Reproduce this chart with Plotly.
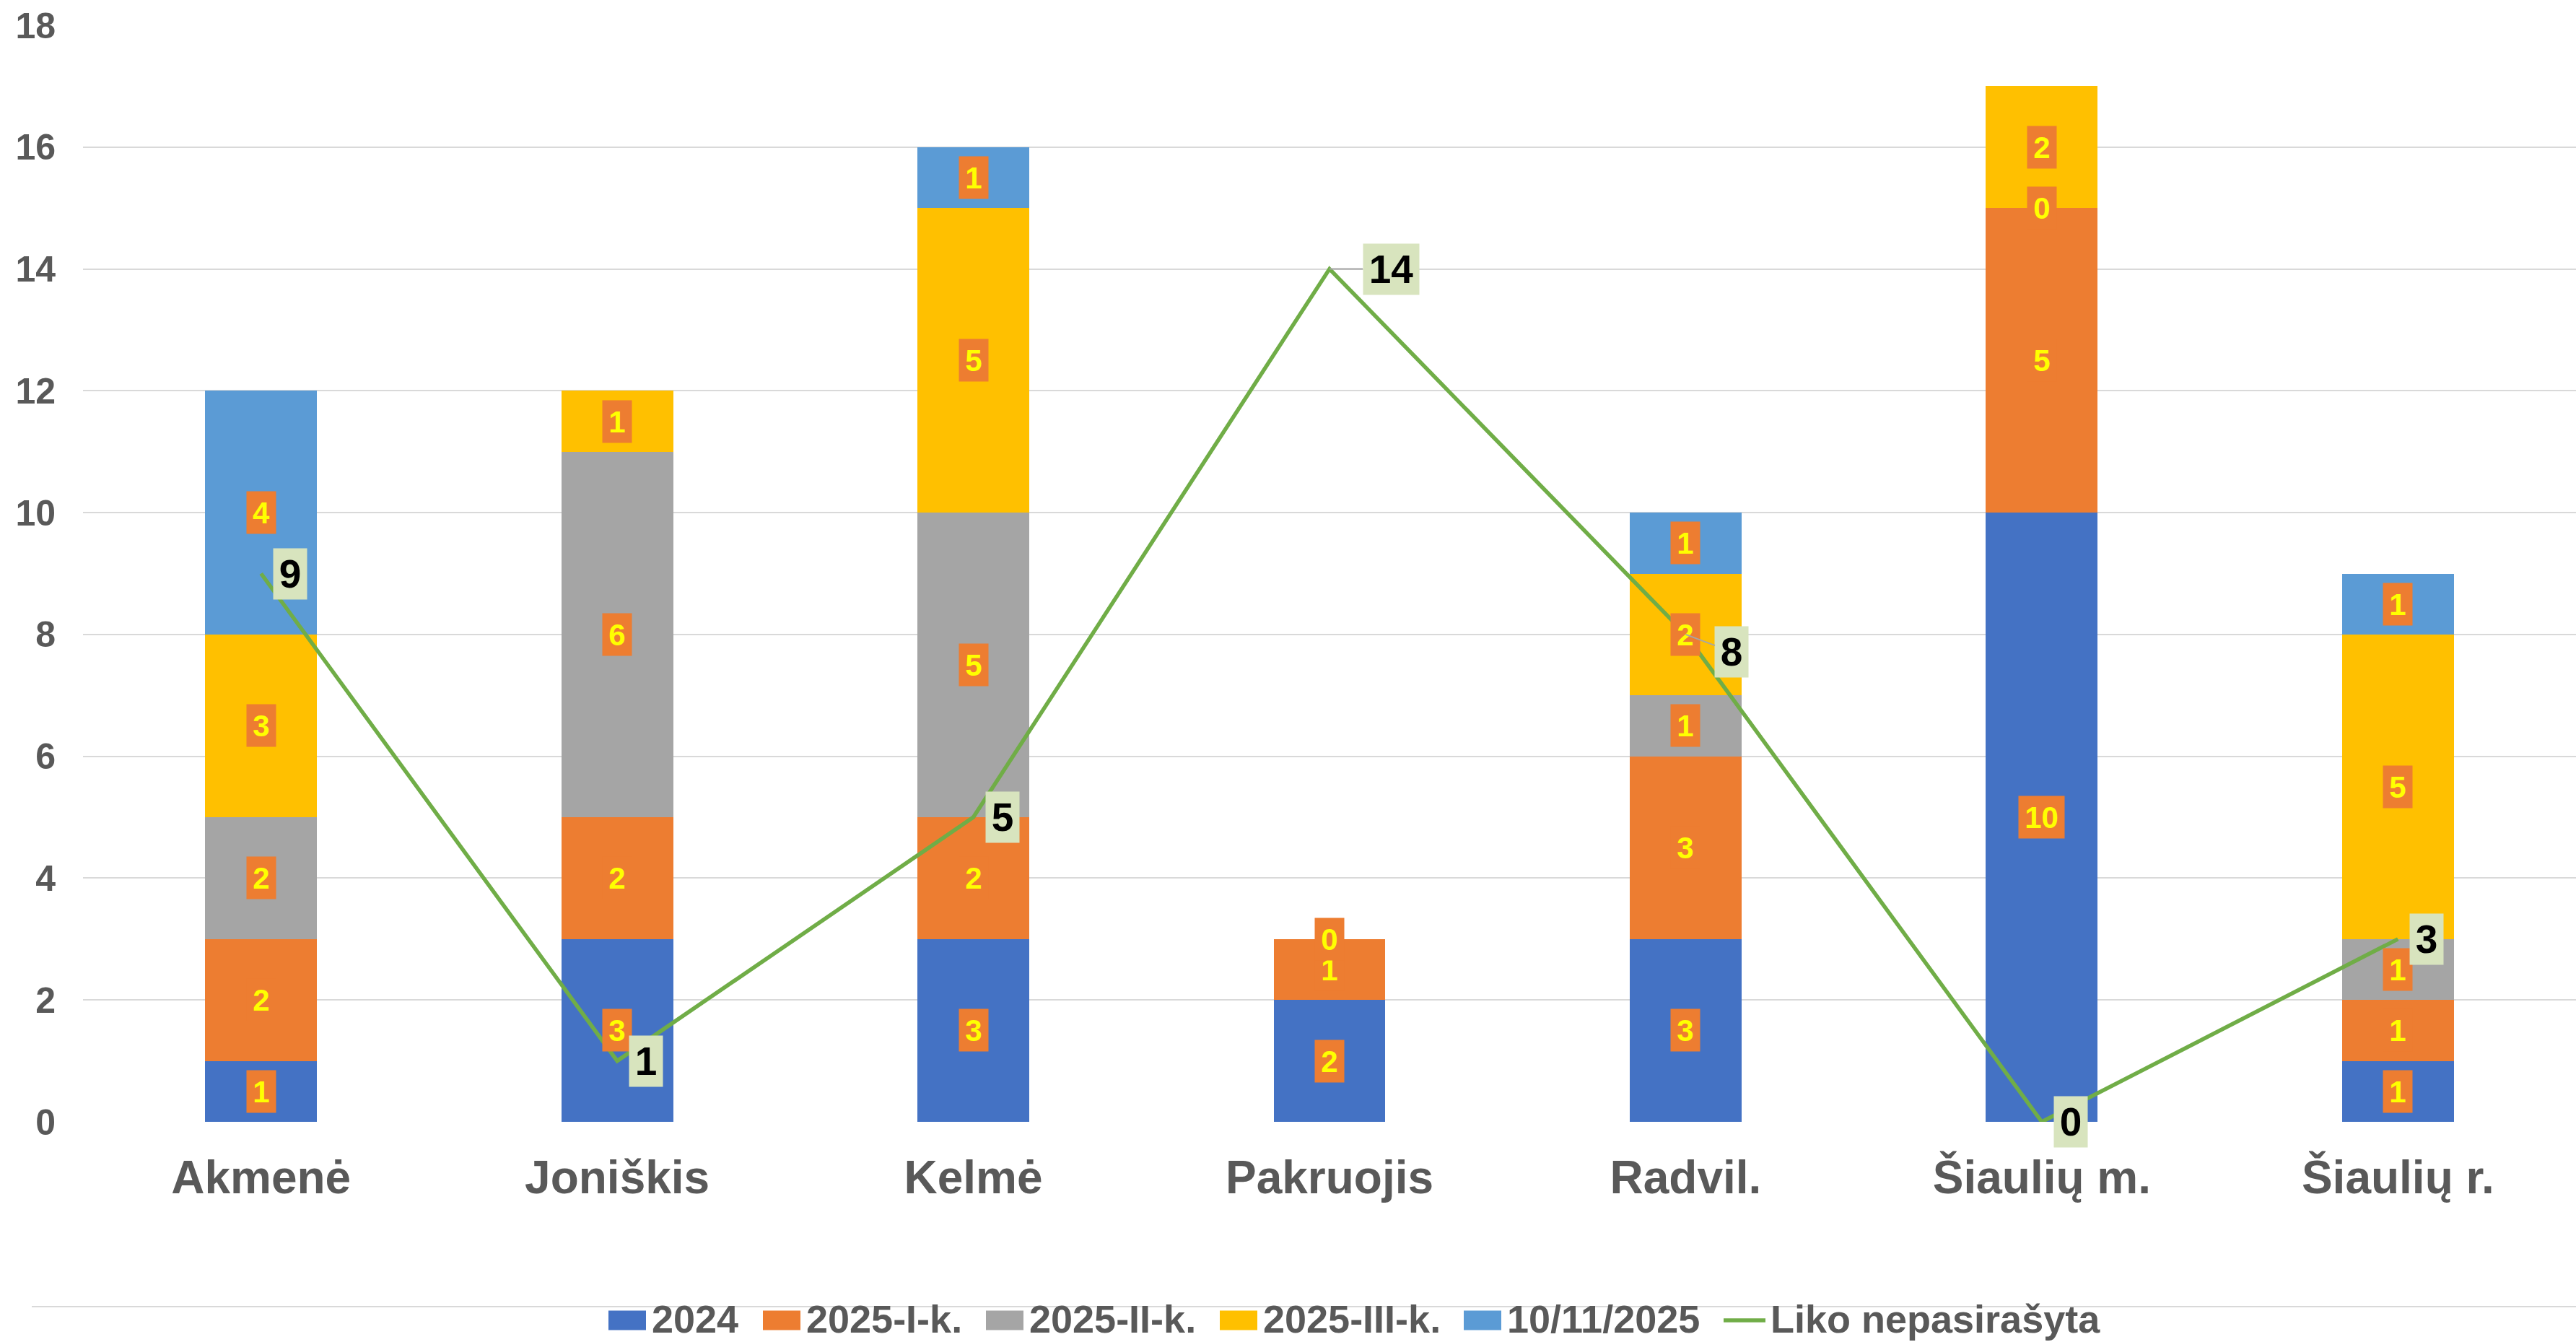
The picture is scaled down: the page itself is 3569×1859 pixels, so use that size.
import plotly.graph_objects as go

# ---------------- data ----------------
categories = ["Akmenė", "Joniškis", "Kelmė", "Pakruojis", "Radvil.", "Šiaulių m.", "Šiaulių r."]
series_names = ["2024", "2025-I-k.", "2025-II-k.", "2025-III-k.", "10/11/2025"]
v_2024 = [1, 3, 3, 2, 3, 10, 1]
v_2025_I = [2, 2, 2, 1, 3, 5, 1]
v_2025_II = [2, 6, 5, 0, 1, 0, 1]
v_2025_III = [3, 1, 5, None, 2, 2, 5]
v_10_11_2025 = [4, None, 1, None, 1, None, 1]
line_name = "Liko nepasirašyta"
liko_nepasirasyta = [9, 1, 5, 14, 8, 0, 3]
y_ticks = [0, 2, 4, 6, 8, 10, 12, 14, 16, 18]

# ---------------- styles / layout ----------------
W, H = 3569, 1859
FONT = "Liberation Sans, Arial, sans-serif"
GREY_TXT = "#595959"
bar_colors = ["#4472C4", "#ED7D31", "#A5A5A5", "#FFC000", "#5B9BD5"]
line_color = "#70AD47"
lbl_bg = "#ED7D31"
lbl_fg = "#FFFF00"
line_lbl_bg = "#D8E4BE"


def px(x):
    return x / W


def py(y):
    return 1 - y / H


plot_left, plot_right = 115, 3569
plot_top, plot_bottom = 35, 1554

series_values = [v_2024, v_2025_I, v_2025_II, v_2025_III, v_10_11_2025]

fig = go.Figure()
for name, vals, col in zip(series_names, series_values, bar_colors):
    fig.add_trace(go.Bar(x=categories, y=vals, name=name, marker=dict(color=col, line=dict(width=0))))

fig.add_trace(go.Scatter(x=categories, y=liko_nepasirasyta, name=line_name, mode="lines",
                         line=dict(color=line_color, width=5.5)))

annotations = []
# bar data labels (orange boxes, yellow text)
bases = [0] * len(categories)
for vals in series_values:
    for i, v in enumerate(vals):
        if v is None:
            continue
        txt = str(v)
        annotations.append(dict(
            x=categories[i], y=bases[i] + v / 2, xref="x", yref="y", text=txt, showarrow=False,
            font=dict(family=FONT, size=42, color=lbl_fg, weight="bold"),
            bgcolor=lbl_bg, borderpad=0, width=40 + 23 * (len(txt) - 1), height=58,
            xanchor="center", yanchor="middle"))
        bases[i] += v

# line data labels (green boxes, black text); two labels were moved with leader lines
moved_labels = {3: (85, 0), 4: (64, 24)}
for i, v in enumerate(liko_nepasirasyta):
    txt = str(v)
    common = dict(x=categories[i], y=v, xref="x", yref="y", text=txt,
                  font=dict(family=FONT, size=55, color="black", weight="bold"),
                  bgcolor=line_lbl_bg, borderpad=0, width=46 + 31 * (len(txt) - 1), height=70)
    if i in moved_labels:
        ax, ay = moved_labels[i]
        annotations.append(dict(common, showarrow=True, arrowhead=0, arrowwidth=2,
                                arrowcolor="#A6A6A6", ax=ax, ay=ay, axref="pixel", ayref="pixel"))
    else:
        annotations.append(dict(common, showarrow=False, xanchor="left", yanchor="middle", xshift=16))

# manual legend
legend_sq_left = [843, 1057, 1366, 1690, 2028]
legend_y = 1827
shapes = [dict(type="line", xref="paper", yref="paper", x0=px(44), x1=px(W), y0=py(1810), y1=py(1810),
               line=dict(color="#D9D9D9", width=2), layer="below")]
for name, col, x0 in zip(series_names, bar_colors, legend_sq_left):
    shapes.append(dict(type="rect", xref="paper", yref="paper", x0=px(x0), x1=px(x0 + 52),
                       y0=py(legend_y + 2 - 13.5), y1=py(legend_y + 2 + 13.5), fillcolor=col,
                       line=dict(width=0)))
    annotations.append(dict(x=px(x0 + 58), y=py(legend_y), xref="paper", yref="paper", text=name,
                            showarrow=False, xanchor="left", yanchor="middle",
                            font=dict(family=FONT, size=54, color=GREY_TXT, weight="bold")))
shapes.append(dict(type="line", xref="paper", yref="paper", x0=px(2388), x1=px(2446),
                   y0=py(legend_y + 2), y1=py(legend_y + 2), line=dict(color=line_color, width=5.5)))
annotations.append(dict(x=px(2451), y=py(legend_y), xref="paper", yref="paper", text=line_name,
                        showarrow=False, xanchor="left", yanchor="middle",
                        font=dict(family=FONT, size=54, color=GREY_TXT, weight="bold")))

fig.update_layout(
    width=W, height=H,
    margin=dict(l=0, r=0, t=0, b=0, autoexpand=False),
    paper_bgcolor="white", plot_bgcolor="white",
    barmode="stack", bargap=0.686,
    showlegend=False,
    annotations=annotations, shapes=shapes,
    xaxis=dict(domain=[px(plot_left), px(plot_right)], range=[-0.5, 6.5], showgrid=False,
               zeroline=False, showline=False, ticks="", automargin=False,
               tickfont=dict(family=FONT, size=64, color=GREY_TXT, weight="bold"),
               ticklabelstandoff=34),
    yaxis=dict(domain=[py(plot_bottom), py(plot_top)], range=[0, 18], tickvals=y_ticks,
               showgrid=True, gridcolor="#D9D9D9", gridwidth=2, zeroline=False, showline=False,
               ticks="", automargin=False,
               tickfont=dict(family=FONT, size=50, color=GREY_TXT, weight="bold"),
               ticklabelstandoff=37),
)

fig.write_html("out.html", config={"displayModeBar": False},
               post_script="document.body.style.margin='0px';document.body.style.overflow='hidden';")
